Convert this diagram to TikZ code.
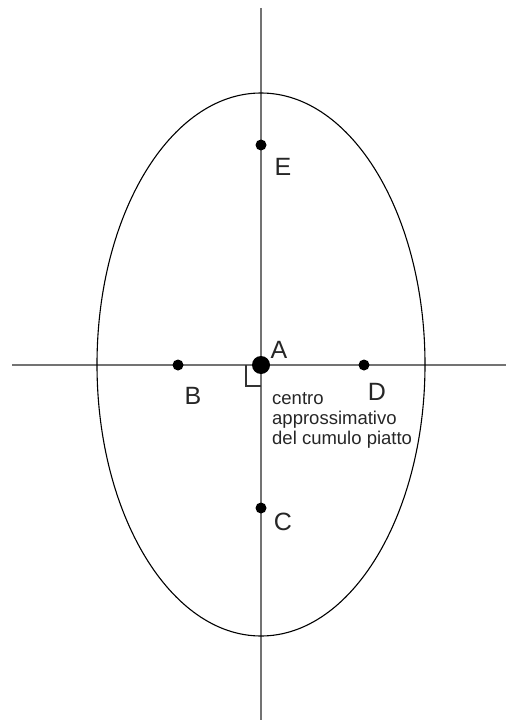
\documentclass[tikz,border=0pt]{standalone}
\usepackage{fontspec}
\setmainfont{Liberation Sans}
\begin{document}
\begin{tikzpicture}[x=1pt,y=-1pt,
  axis/.style={draw=black!55,line width=1.3pt},
  dotsmall/.style={circle,fill=black,inner sep=0pt,minimum size=11pt},
  dotbig/.style={circle,fill=black,inner sep=0pt,minimum size=18pt},
  lbl/.style={font=\fontsize{25}{30}\selectfont,text=black!85,inner sep=0pt},
  note/.style={font=\fontsize{18.5}{20}\selectfont,text=black!85,inner sep=0pt,align=left}]
\useasboundingbox (0,0) rectangle (507,722);
% axes
\coordinate (vt) at (261,8);
\coordinate (vb) at (261,720);
\coordinate (hl) at (12,365);
\coordinate (hr) at (506,365);
\draw[axis] (vt) -- (vb);
\draw[axis] (hl) -- (hr);
% ellipse
\draw[black,line width=1.1pt] (261,364.5) ellipse [x radius=164, y radius=271.5];
% right angle marker
\coordinate (ra1) at (261,386);
\coordinate (ra2) at (246,386);
\coordinate (ra3) at (246,365);
\draw[black!80,line width=1.2pt] (ra1) -- (ra2) -- (ra3);
% dots
\node[dotbig] (A) at (261,365) {};
\node[dotsmall] (B) at (178,365) {};
\node[dotsmall] (D) at (364,365) {};
\node[dotsmall] (E) at (261,145) {};
\node[dotsmall] (C) at (261,508) {};
% labels
\node[lbl] (lA) at (279,350) {A};
\node[lbl] (lB) at (193,396) {B};
\node[lbl] (lD) at (377,392) {D};
\node[lbl] (lE) at (283,167) {E};
\node[lbl] (lC) at (283,522) {C};
\node[note,anchor=north west] (txt) at (272,392) {centro\\approssimativo\\del cumulo piatto};
\end{tikzpicture}
\end{document}
